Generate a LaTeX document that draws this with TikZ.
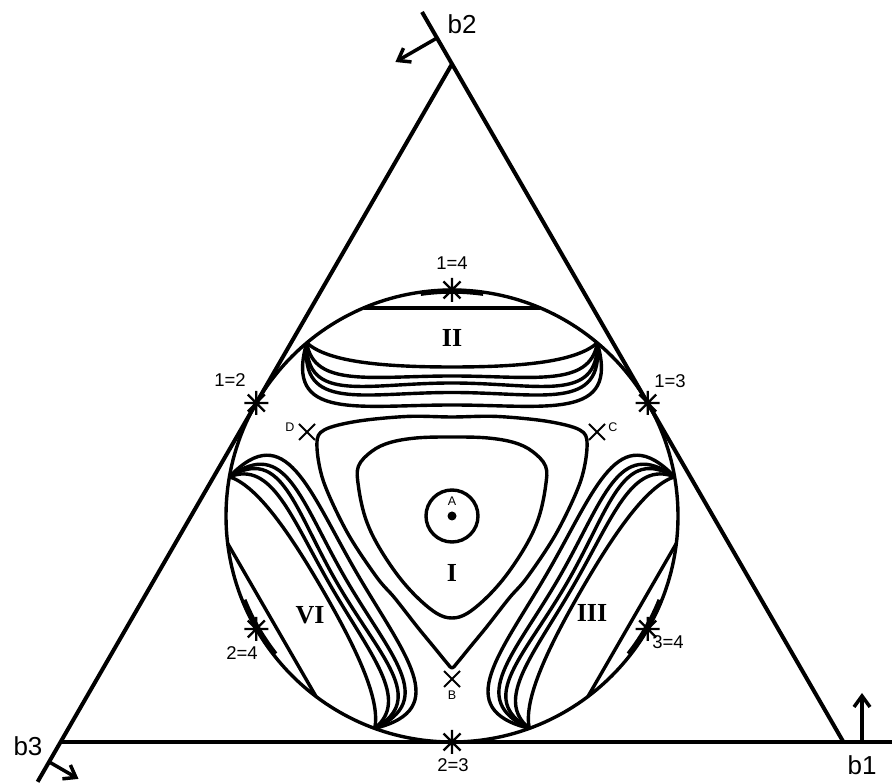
\documentclass[tikz,border=0pt]{standalone}
\usepackage{fontspec}
\setmainfont{Liberation Serif}
\newfontfamily\lsans{Liberation Sans}
\usetikzlibrary{arrows.meta}
\begin{document}
\begin{tikzpicture}[x=1pt,y=1pt,
  curve/.style={line width=3.4pt, line join=round},
  frame/.style={line width=4pt},
  axarrow/.style={line width=3.5pt, -{Straight Barb[length=11pt,width=16pt]}},
  starline/.style={line width=2.2pt},
  saddle/.style={line width=2pt},
  blab/.style={font=\lsans\fontsize{26}{26}\selectfont, inner sep=0pt},
  eqlab/.style={font=\lsans\fontsize{18.5}{18.5}\selectfont, inner sep=0pt},
  ptlab/.style={font=\lsans\fontsize{12.5}{12.5}\selectfont, inner sep=0pt},
  reglab/.style={font=\bfseries\fontsize{26}{26}\selectfont, inner sep=0pt}]
\useasboundingbox (0,0) rectangle (892,784);
% triangle sides
\coordinate (T) at (452,720);
\coordinate (BL) at (60.6,42);
\coordinate (BR) at (843.4,42);
\coordinate (T2) at (422,772);
\coordinate (BL3) at (37.6,2.2);
\coordinate (E1) at (892,42);
\draw[frame] (T2) -- (BR);
\draw[frame] (T) -- (BL3);
\draw[frame] (BL) -- (E1);
% normal arrows
\coordinate (a2s) at (437,746);
\coordinate (a2e) at (395.4,722);
\coordinate (a3s) at (49.1,22.1);
\coordinate (a3e) at (78.5,5.1);
\coordinate (a1s) at (862,42);
\coordinate (a1e) at (862,91);
\draw[axarrow] (a2s) -- (a2e);
\draw[axarrow] (a3s) -- (a3e);
\draw[axarrow] (a1s) -- (a1e);
\node[blab] (lb2) at (462,760) {b2};
\node[blab] (lb3) at (28,38) {b3};
\node[blab] (lb1) at (862,19) {b1};
% inside the circle
\begin{scope}[shift={(452,268)}]
  \draw[curve] (0,0) circle (226);
  \foreach \a/\w in {0/4.5,120/5.5,240/5.5}{
    \begin{scope}[rotate=\a]
      \draw[curve] (-88.4,208) -- (88.4,208);
      \draw[line width=\w pt] (82:224.5) arc[start angle=82, end angle=98, radius=224.5];
      \draw[curve] (130:226) .. controls (-125,155) and (-75,149) .. (0,149)
                   .. controls (75,149) and (125,155) .. (50:226);
      \draw[curve] (130:226) .. controls (-138,128) and (-80,140) .. (0,140)
                   .. controls (80,140) and (138,128) .. (50:226);
      \draw[curve] (130:226) .. controls (-146,112) and (-86,133) .. (0,133)
                   .. controls (86,133) and (146,112) .. (50:226);
      \draw[curve] (130:226) .. controls (-152,104) and (-90,123.5) .. (0,123.5)
                   .. controls (90,123.5) and (152,104) .. (50:226);
      \draw[curve] (130:226) .. controls (-168,95) and (-95,111) .. (0,111)
                   .. controls (95,111) and (168,95) .. (50:226);
    \end{scope}}
  % separatrix-like curve of region I
  \draw[curve] plot[smooth cycle, tension=0.55] coordinates {
    (90:99) (114:109) (135:134) (146:154) (152:153) (165:133) (189:106)
    (219:97) (235:100) (252.5:116) (262:132) (268:147) (270:152)
    (272:147) (278:132) (287.5:116) (305:100) (321:97) (351:106)
    (15:133) (28:153) (34:154) (45:134) (66:109)};
  % inner closed curve
  \draw[curve] plot[smooth cycle, tension=0.6] coordinates {
    (90:79) (114:85.5) (130:96) (141:103) (152:106) (162.6:98) (180.5:87)
    (200:80) (226:80) (246:88) (261:98.5) (270:102) (279:98.5) (294:88)
    (314:80) (340:80) (359.5:87) (17.4:98) (28:106) (39:103) (50:96) (66:85.5)};
  \draw[curve] (0,0) circle (26);
  \fill (0,0) circle (4.5);
  % saddle points
  \foreach \px/\py in {-145/84, 145/84, 0/-163}{
    \begin{scope}[shift={(\px,\py)}]
      \draw[saddle] (-8,-8) -- (8,8) (-8,8) -- (8,-8);
    \end{scope}}
  % tangency points
  \foreach \a in {30,90,150,210,270,330}{
    \begin{scope}[shift={(\a:226)}]
      \draw[starline] (-12,0) -- (12,0) (0,-12) -- (0,12)
        (-8.5,-8.5) -- (8.5,8.5) (-8.5,8.5) -- (8.5,-8.5);
    \end{scope}}
\end{scope}
% labels
\node[eqlab] (l14) at (452,521) {1=4};
\node[eqlab] (l12) at (230,404) {1=2};
\node[eqlab] (l13) at (670,403) {1=3};
\node[eqlab] (l24) at (242,131) {2=4};
\node[eqlab] (l34) at (668,142) {3=4};
\node[eqlab] (l23) at (453,19) {2=3};
\node[ptlab] (lD) at (290,357) {D};
\node[ptlab] (lC) at (613,357) {C};
\node[ptlab] (lB) at (452,89) {B};
\node[ptlab] (lA) at (452,283) {A};
\node[reglab] (rII) at (452,446) {II};
\node[reglab] (rI) at (452,211) {I};
\node[reglab] (rVI) at (310,169) {VI};
\node[reglab] (rIII) at (592,171) {III};
\end{tikzpicture}
\end{document}
